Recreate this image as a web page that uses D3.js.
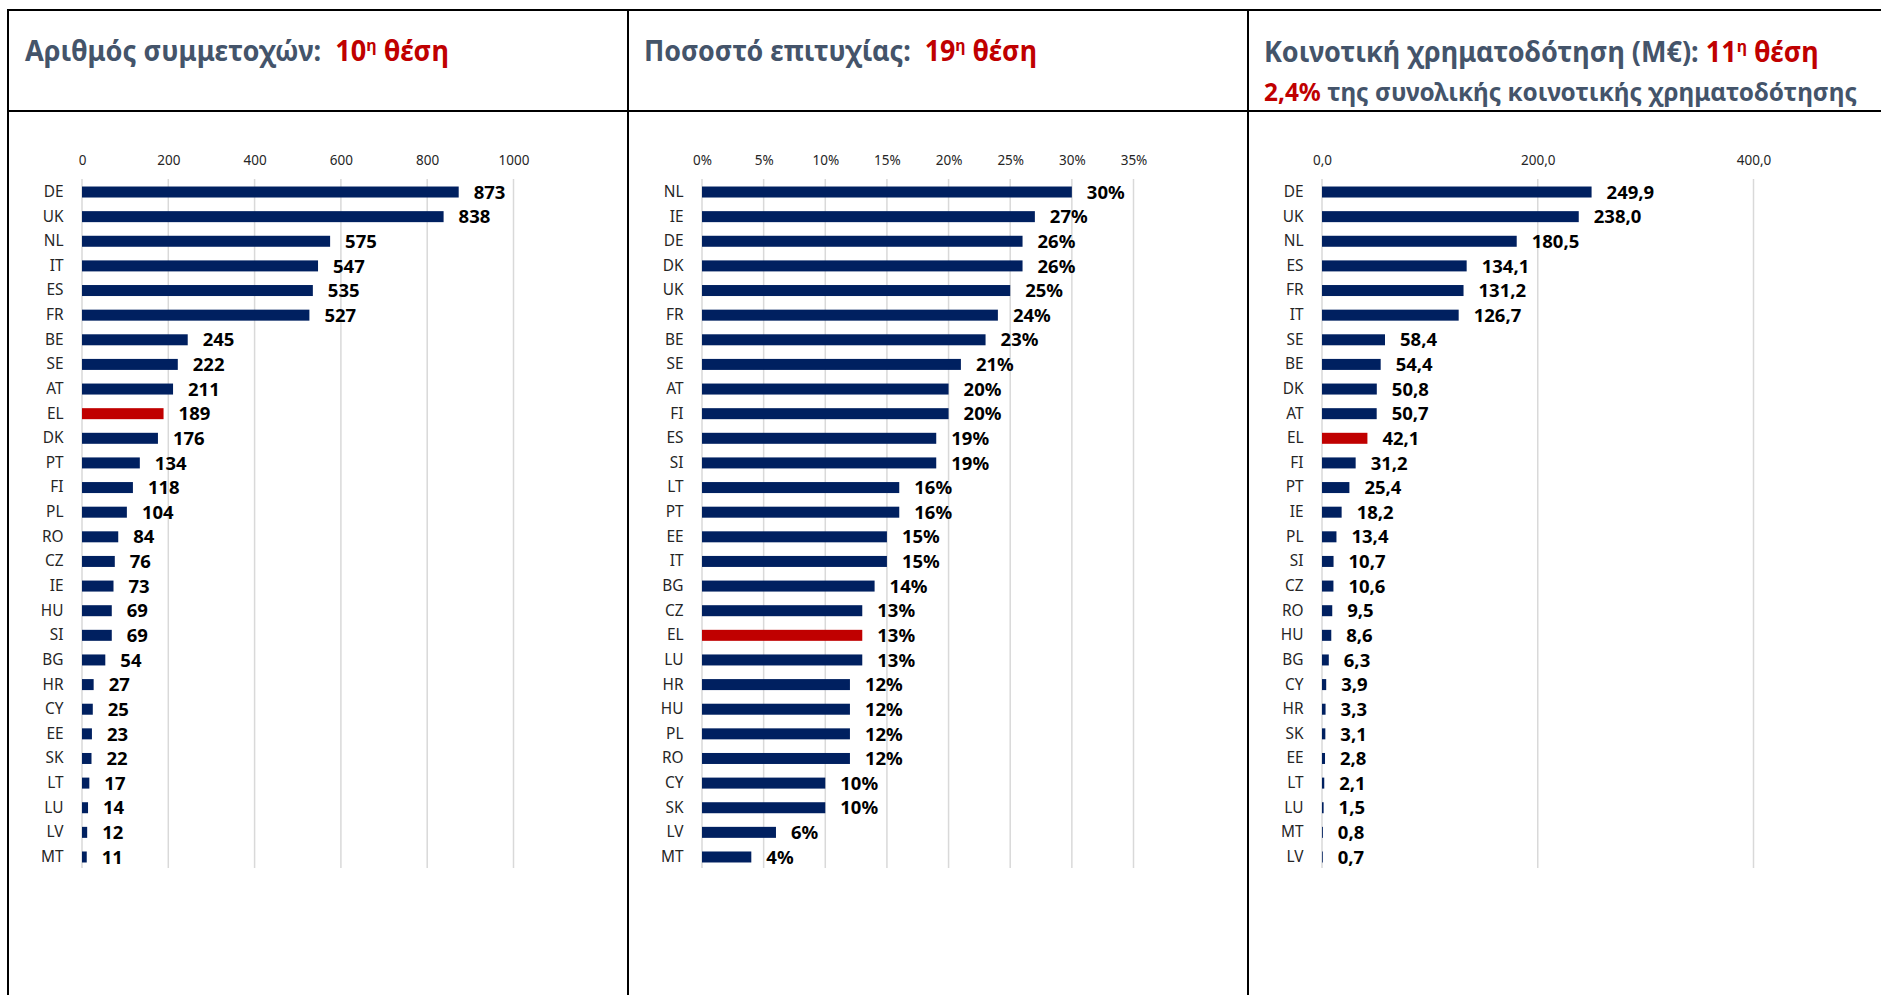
<!DOCTYPE html>
<html>
<head>
<meta charset="utf-8">
<script src="https://cdn.jsdelivr.net/npm/d3@7"></script>
<style>
  html, body { margin: 0; padding: 0; background: #fff; }
  svg { display: block; }
  text { white-space: pre; }
</style>
</head>
<body>
<svg id="chart" width="1881" height="995"></svg>
<script>
// ---------- DATA ----------
const participationCats = ["DE","UK","NL","IT","ES","FR","BE","SE","AT","EL","DK","PT","FI","PL","RO","CZ","IE","HU","SI","BG","HR","CY","EE","SK","LT","LU","LV","MT"];
const participationVals = [873,838,575,547,535,527,245,222,211,189,176,134,118,104,84,76,73,69,69,54,27,25,23,22,17,14,12,11];
const participationTicks = [0,200,400,600,800,1000];

const successCats = ["NL","IE","DE","DK","UK","FR","BE","SE","AT","FI","ES","SI","LT","PT","EE","IT","BG","CZ","EL","LU","HR","HU","PL","RO","CY","SK","LV","MT"];
const successVals = [30,27,26,26,25,24,23,21,20,20,19,19,16,16,15,15,14,13,13,13,12,12,12,12,10,10,6,4];
const successTicks = [0,5,10,15,20,25,30,35];

const fundingCats = ["DE","UK","NL","ES","FR","IT","SE","BE","DK","AT","EL","FI","PT","IE","PL","SI","CZ","RO","HU","BG","CY","HR","SK","EE","LT","LU","MT","LV"];
const fundingVals = [249.9,238.0,180.5,134.1,131.2,126.7,58.4,54.4,50.8,50.7,42.1,31.2,25.4,18.2,13.4,10.7,10.6,9.5,8.6,6.3,3.9,3.3,3.1,2.8,2.1,1.5,0.8,0.7];
const fundingTicks = [0,200,400];

const highlightCountry = "EL";

const title1 = ["Αριθμός συμμετοχών:  ", "10", "η", " θέση"];
const title2 = ["Ποσοστό επιτυχίας:  ", "19", "η", " θέση"];
const title3a = ["Κοινοτική χρηματοδότηση (Μ€): ", "11", "η", " θέση"];
const title3b = ["2,4%", " της συνολικής κοινοτικής χρηματοδότησης"];

// ---------- STYLE ----------
const FONT = "'Noto Sans', 'Open Sans', 'DejaVu Sans', sans-serif";
const NAVY = "#002060", RED = "#C00000", SLATE = "#44546A";
const svg = d3.select("#chart");

const grLocale = d3.formatLocale({decimal: ",", thousands: ".", grouping: [3], currency: ["", "€"]});
const fmt1 = grLocale.format(".1f");

// ---------- TABLE BORDERS ----------
const borders = svg.append("g").attr("stroke", "#000").attr("stroke-width", 2);
borders.append("line").attr("x1", 7).attr("x2", 1881).attr("y1", 10).attr("y2", 10);
borders.append("line").attr("x1", 7).attr("x2", 1881).attr("y1", 111).attr("y2", 111);
[8, 628, 1248].forEach(x => borders.append("line").attr("x1", x).attr("x2", x).attr("y1", 9).attr("y2", 995));

// ---------- TITLES ----------
function drawTitle(x, y, segs, targetW) {
  const t = svg.append("text")
    .attr("font-family", FONT).attr("font-weight", 700).attr("font-size", 22)
    .attr("transform", `translate(${x},${y})`);
  segs.forEach(s => {
    const ts = t.append("tspan").text(s.text).attr("fill", s.color);
    if (s.sup) ts.attr("font-size", 13).attr("dy", -8);
    if (s.back) ts.attr("dy", 8);
  });
  const w = t.node().getComputedTextLength();
  const k = targetW / w;
  t.attr("transform", `translate(${x},${y}) scale(${k},${k * 1.04})`);
}
function rankTitle(parts) {
  return [
    {text: parts[0], color: SLATE},
    {text: parts[1], color: RED},
    {text: parts[2], color: RED, sup: true},
    {text: parts[3], color: RED, back: true}
  ];
}
drawTitle(25, 61, rankTitle(title1), 424);
drawTitle(644, 61, rankTitle(title2), 393);
drawTitle(1264, 62, rankTitle(title3a), 555);
drawTitle(1264, 101, [{text: title3b[0], color: RED}, {text: title3b[1], color: SLATE}], 593);

// ---------- PANELS ----------
function panel(left, cats, vals, ticks, domainMax, tickFmt, labelFmt) {
  const x0 = left + 74;
  const x = d3.scaleLinear().domain([0, domainMax]).range([x0, x0 + 431.5]);
  const y = d3.scaleBand().domain(cats).range([179.7, 869.3]).padding(0);
  const barH = 11;
  const g = svg.append("g");

  // gridlines
  g.append("g").selectAll("line").data(ticks).join("line")
    .attr("x1", d => x(d)).attr("x2", d => x(d))
    .attr("y1", 179).attr("y2", 868)
    .attr("stroke", "#d9d9d9").attr("stroke-width", 1.5);

  // top tick labels
  const ax = g.append("g").attr("transform", "translate(0,164.5)")
    .call(d3.axisTop(x).tickValues(ticks).tickSize(0).tickPadding(0).tickFormat(tickFmt));
  ax.select(".domain").remove();
  ax.selectAll("text").attr("font-family", FONT).attr("font-size", 13.5).attr("fill", "#262626");

  // category labels
  const ay = g.append("g").attr("transform", `translate(${x0},0)`)
    .call(d3.axisLeft(y).tickSize(0).tickPadding(18.5));
  ay.select(".domain").remove();
  ay.selectAll("text").attr("font-family", FONT).attr("font-size", 15.4).attr("fill", "#262626");

  const data = cats.map((c, i) => ({c, v: vals[i]}));
  // bars
  g.append("g").selectAll("rect").data(data).join("rect")
    .attr("x", x(0))
    .attr("y", d => y(d.c) + (y.bandwidth() - barH) / 2)
    .attr("width", d => x(d.v) - x(0))
    .attr("height", barH)
    .attr("fill", d => d.c === highlightCountry ? RED : NAVY);

  // value labels
  g.append("g").selectAll("text").data(data).join("text")
    .attr("x", d => x(d.v) + 15)
    .attr("y", d => y(d.c) + y.bandwidth() / 2)
    .attr("dy", "0.36em")
    .attr("font-family", FONT).attr("font-weight", 700).attr("font-size", 18.5)
    .attr("fill", "#000")
    .text(d => labelFmt(d.v));
}

panel(8, participationCats, participationVals, participationTicks, 1000, d3.format("d"), d3.format("d"));
panel(628, successCats, successVals, successTicks, 35, d => d + "%", d => d + "%");
panel(1248, fundingCats, fundingVals, fundingTicks, 400, fmt1, fmt1);
</script>
</body>
</html>
